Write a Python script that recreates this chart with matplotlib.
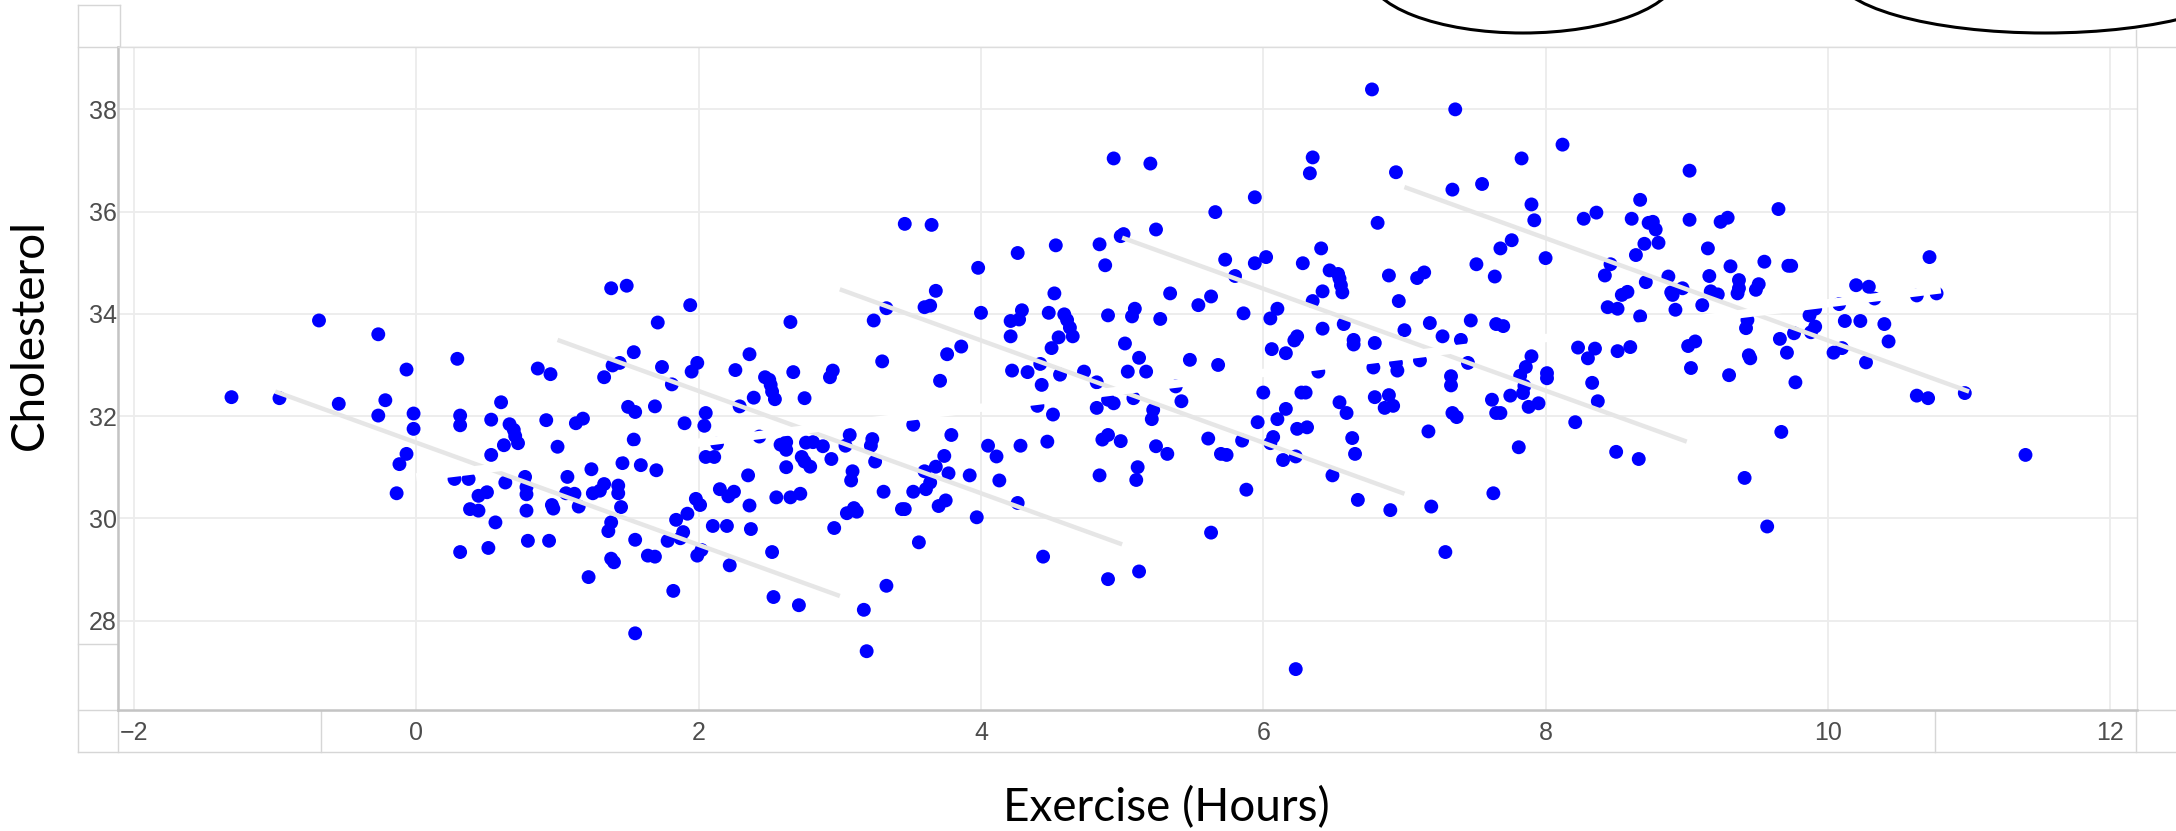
import numpy as np
import matplotlib
matplotlib.use("Agg")
import matplotlib.pyplot as plt
from matplotlib.patches import Ellipse
from matplotlib.lines import Line2D

# exercise hours / cholesterol
exercise = [
    -1.31, -0.97, -0.69, -0.55, -0.27, -0.22, -0.07, 0.29, 0.60, 0.86, 0.95, 1.33, 1.38, 1.49, 1.39, 1.44, 1.54, 1.71, 1.50, 1.69,
    -0.27, -0.02, -0.02, -0.07, -0.12, -0.14, 0.31, 0.31, 0.53, 0.66, 0.69, 0.70, 0.72, 0.62, 0.53, 0.92, 1.13, 1.18, 1.00, 1.54,
    1.55, 0.27, 0.37, 0.63, 0.77, 0.78, 0.78, 0.50, 0.44, 0.38, 0.44, 0.78, 0.56, 0.96, 0.97, 1.07, 1.06, 1.12, 1.15, 1.24,
    1.25, 1.30, 1.33, 1.43, 1.43, 1.45, 1.46, 1.59, 1.70, 1.38, 1.36, 1.55, 0.79, 0.94, 0.31, 0.51, 1.38, 1.40, 1.64, 1.69,
    1.22, 1.55,
    1.74, 1.81, 1.94, 1.95, 1.99, 2.26, 2.36, 2.39, 2.29, 2.47, 2.50, 2.51, 2.52, 2.54, 2.65, 2.67, 2.75, 2.93, 2.95, 3.24,
    3.33, 3.30, 3.46, 3.65, 3.60, 3.64, 3.68, 3.76, 3.86, 3.71, 3.98, 4.00, 4.26, 4.53, 4.84, 4.88, 4.99, 5.01, 4.52, 4.48,
    4.21, 4.27, 4.29, 4.21, 4.59, 4.61, 4.63, 4.65, 4.55, 4.50, 4.90, 5.09, 5.07, 5.02, 5.12, 5.04, 4.22, 4.33, 4.42, 4.43,
    4.56, 4.73, 4.82, 4.40, 4.82, 4.90, 4.94, 5.08, 4.94,
    2.05, 1.90, 2.04, 2.13, 2.05, 2.11, 2.35, 2.15, 2.21, 2.25, 1.98, 2.01, 1.92, 1.84, 1.89, 1.87, 1.78, 1.99, 2.02, 1.82,
    2.10, 2.20, 2.37, 2.36, 2.22, 2.52, 2.53, 2.71, 2.43, 2.58, 2.62, 2.62, 2.62, 2.55, 2.65, 2.72, 2.73, 2.75, 2.79, 2.76,
    2.81, 2.88, 2.94, 3.07, 3.04, 3.23, 3.22, 3.25, 3.52, 3.79, 3.09, 3.08, 3.31, 3.05, 3.10, 3.12, 2.96, 3.44, 3.46, 3.52,
    3.60, 3.64, 3.61, 3.68, 3.74, 3.77, 3.70, 3.75, 3.56, 3.33, 3.17, 3.19, 3.92, 3.97, 4.05, 4.11, 4.13, 4.28, 4.26, 4.47,
    4.51, 4.44, 4.86, 4.90, 4.99, 4.84, 5.11, 5.10, 4.90, 5.12,
    6.77, 7.36, 8.12, 7.83, 6.94, 6.35, 6.33, 5.20, 5.24, 5.66, 5.94, 6.81, 7.34, 7.55, 7.90, 7.92, 8.27, 8.36, 8.67, 8.61,
    8.73, 8.70, 8.64, 8.71, 7.76, 7.68, 8.00, 7.51, 7.64, 6.41, 5.73, 5.80, 5.94, 6.02, 6.28, 6.47, 6.53, 6.54, 6.55, 6.56,
    6.42, 6.35, 6.89, 6.96, 7.09, 7.14, 5.34, 5.54, 5.63, 5.27, 5.86, 6.10, 6.05, 8.46, 8.42, 8.54, 8.58, 8.44, 8.51, 8.67,
    7.18, 7.47, 7.65, 7.70, 7.00, 6.57, 6.42, 6.24, 6.22, 6.64, 6.64, 6.79, 7.27, 7.40, 6.06, 6.16, 5.48, 5.68, 5.17, 6.78,
    6.94, 6.95, 7.11, 7.45, 7.33, 7.33, 7.90, 7.86, 7.82, 8.01, 8.01, 7.85, 7.84, 8.23, 8.35, 8.30, 8.51, 8.60, 8.33, 8.37,
    7.75, 7.62, 7.95, 7.88, 5.38, 5.42, 6.00, 6.27, 6.30, 6.39, 6.54, 6.79, 6.89, 6.86, 6.92, 6.16,
    5.22, 5.21, 5.24, 5.32, 5.61, 5.70, 5.74, 5.88, 5.63, 5.85, 5.96, 6.10, 6.07, 6.05, 6.14, 6.23, 6.24, 6.31, 6.49, 6.59,
    6.63, 6.65, 6.67, 6.90, 7.17, 7.19, 7.29, 7.34, 7.37, 7.63, 7.65, 7.68, 7.81, 8.21, 8.50, 8.66, 6.23,
    9.02, 9.65, 9.02, 9.29, 9.24, 8.76, 8.78, 8.80, 9.15, 9.31, 9.55, 9.72, 9.74, 9.16, 8.87, 8.97, 8.89, 8.90, 9.17, 9.22,
    9.37, 9.37, 9.36, 9.49, 9.51, 9.11, 9.43, 9.42, 9.87, 9.91, 9.91, 9.88, 9.76, 9.66, 9.71, 9.44, 9.45, 9.77, 9.30, 9.03,
    9.01, 9.06, 10.04, 10.10, 10.12, 10.23, 10.40, 10.43, 10.27, 10.08, 10.20, 10.29, 10.33, 10.63, 10.77, 10.72, 10.63, 10.71, 10.97, 8.92,
    9.67, 9.41, 9.57, 11.40,
]
cholesterol = [
    32.37, 32.35, 33.87, 32.24, 33.60, 32.31, 32.91, 33.12, 32.27, 32.93, 32.82, 32.76, 34.50, 34.55, 32.99, 33.04, 33.25, 33.83, 32.18, 32.19,
    32.01, 32.05, 31.75, 31.26, 31.06, 30.49, 32.01, 31.82, 31.93, 31.84, 31.73, 31.61, 31.47, 31.43, 31.24, 31.92, 31.86, 31.95, 31.40, 31.54,
    32.08, 30.77, 30.77, 30.70, 30.81, 30.61, 30.47, 30.51, 30.44, 30.18, 30.15, 30.15, 29.92, 30.26, 30.19, 30.81, 30.49, 30.48, 30.23, 30.96,
    30.49, 30.54, 30.67, 30.64, 30.49, 30.22, 31.08, 31.04, 30.94, 29.92, 29.75, 29.58, 29.56, 29.56, 29.34, 29.42, 29.21, 29.14, 29.27, 29.25,
    28.85, 27.75,
    32.96, 32.62, 34.17, 32.87, 33.04, 32.90, 33.21, 32.36, 32.19, 32.76, 32.71, 32.61, 32.48, 32.33, 33.84, 32.86, 32.35, 32.76, 32.89, 33.87,
    34.11, 33.07, 35.76, 35.74, 34.13, 34.16, 34.45, 33.21, 33.36, 32.69, 34.90, 34.02, 35.19, 35.34, 35.36, 34.95, 35.52, 35.56, 34.40, 34.02,
    33.86, 33.89, 34.07, 33.56, 33.99, 33.88, 33.73, 33.56, 33.54, 33.33, 33.97, 34.10, 33.95, 33.42, 33.14, 32.87, 32.89, 32.86, 33.02, 32.61,
    32.81, 32.87, 32.66, 32.20, 32.16, 32.32, 32.25, 32.35, 37.04,
    32.06, 31.86, 31.81, 31.46, 31.20, 31.20, 30.84, 30.57, 30.43, 30.52, 30.38, 30.26, 30.09, 29.97, 29.73, 29.61, 29.56, 29.27, 29.38, 28.58,
    29.85, 29.85, 29.79, 30.25, 29.08, 29.34, 28.46, 28.30, 31.60, 31.44, 31.49, 31.34, 31.00, 30.41, 30.41, 30.48, 31.20, 31.11, 31.01, 31.48,
    31.49, 31.41, 31.16, 31.63, 31.42, 31.55, 31.42, 31.11, 31.83, 31.63, 30.92, 30.74, 30.52, 30.10, 30.20, 30.13, 29.81, 30.18, 30.18, 30.52,
    30.92, 30.70, 30.57, 31.01, 31.22, 30.88, 30.24, 30.35, 29.53, 28.68, 28.21, 27.40, 30.84, 30.02, 31.42, 31.21, 30.74, 31.42, 30.30, 31.50,
    32.03, 29.25, 31.54, 31.63, 31.51, 30.84, 31.00, 30.75, 28.81, 28.96,
    38.39, 38.00, 37.31, 37.04, 36.77, 37.06, 36.75, 36.94, 35.65, 35.99, 36.28, 35.78, 36.43, 36.54, 36.14, 35.83, 35.86, 35.98, 36.23, 35.86,
    35.78, 35.37, 35.15, 34.62, 35.44, 35.28, 35.09, 34.97, 34.73, 35.28, 35.06, 34.74, 34.99, 35.11, 34.99, 34.85, 34.78, 34.69, 34.56, 34.42,
    34.44, 34.25, 34.75, 34.25, 34.70, 34.81, 34.40, 34.17, 34.34, 33.90, 34.01, 34.10, 33.91, 34.97, 34.75, 34.37, 34.43, 34.13, 34.10, 33.95,
    33.82, 33.87, 33.80, 33.76, 33.68, 33.80, 33.71, 33.56, 33.48, 33.49, 33.40, 33.43, 33.56, 33.49, 33.31, 33.23, 33.10, 33.00, 32.87, 32.95,
    33.04, 32.89, 33.09, 33.04, 32.78, 32.60, 33.17, 32.96, 32.79, 32.84, 32.74, 32.59, 32.45, 33.34, 33.32, 33.13, 33.27, 33.35, 32.65, 32.29,
    32.40, 32.32, 32.25, 32.18, 32.58, 32.29, 32.46, 32.46, 32.46, 32.87, 32.27, 32.37, 32.41, 32.16, 32.20, 32.14,
    32.12, 31.94, 31.41, 31.26, 31.56, 31.26, 31.24, 30.56, 29.72, 31.52, 31.88, 31.94, 31.59, 31.47, 31.14, 31.21, 31.75, 31.78, 30.84, 32.06,
    31.57, 31.26, 30.36, 30.16, 31.70, 30.23, 29.34, 32.06, 31.98, 30.49, 32.06, 32.06, 31.39, 31.88, 31.30, 31.16, 27.05,
    36.80, 36.05, 35.84, 35.88, 35.80, 35.80, 35.65, 35.39, 35.28, 34.93, 35.02, 34.94, 34.94, 34.74, 34.73, 34.50, 34.42, 34.37, 34.44, 34.38,
    34.66, 34.50, 34.40, 34.47, 34.58, 34.17, 33.88, 33.72, 33.97, 34.10, 33.75, 33.64, 33.62, 33.51, 33.24, 33.19, 33.13, 32.66, 32.80, 32.94,
    33.37, 33.46, 33.24, 33.33, 33.86, 33.86, 33.80, 33.46, 33.05, 34.19, 34.56, 34.53, 34.30, 34.36, 34.40, 35.11, 32.40, 32.35, 32.45, 34.08,
    31.69, 30.79, 29.84, 31.24,
]

# per-group fit lines (start / end)
group_x0 = [-1, 1, 3, 5, 7]
group_x1 = [3, 5, 7, 9, 11]
group_y0 = [32.48, 33.49, 34.48, 35.49, 36.48]
group_y1 = [28.48, 29.49, 30.48, 31.50, 32.48]

# overall trend (drawn white in the picture)
trend_x = [0.0, 10.8]
trend_y = [30.80, 34.48]

W, H = 2176, 831
fig = plt.figure(figsize=(W / 100, H / 100), dpi=100)
ax = fig.add_axes([118 / W, 1 - 710 / H, (2137 - 118) / W, (710 - 47) / H])

ax.scatter(exercise, cholesterol, s=100, color="#0000ff", edgecolors="none", zorder=3)
for x0, x1, y0, y1 in zip(group_x0, group_x1, group_y0, group_y1):
    ax.plot([x0, x1], [y0, y1], color="#e6e6e6", lw=3.2, solid_capstyle="butt", zorder=4)
ax.plot(trend_x, trend_y, color="white", lw=6, solid_capstyle="butt", zorder=5)

ax.set_xlim(-2.114, 12.19)
ax.set_ylim(26.25, 39.22)
ax.set_xticks(range(-2, 13, 2))
ax.set_yticks(range(28, 39, 2))
ax.set_xticklabels(["\u22122", "0", "2", "4", "6", "8", "10", "12"])
ax.grid(color="#ececec", lw=1.3)
ax.set_axisbelow(True)
ax.tick_params(length=0, labelsize=18, labelcolor="#4d4d4d")
ax.tick_params(axis="y", pad=1)
ax.tick_params(axis="x", pad=8)
for lab in ax.get_xticklabels() + ax.get_yticklabels():
    lab.set_family("Liberation Sans")
for side in ["top", "right"]:
    ax.spines[side].set_color("#dddddd")
    ax.spines[side].set_linewidth(1)
for side in ["left", "bottom"]:
    ax.spines[side].set_color("#c4c4c4")
    ax.spines[side].set_linewidth(1.8)

# frame lines around the tick strips
frame = [
    (78, 5, 120, 5), (78, 5, 78, 752), (120, 5, 120, 47),
    (78, 47, 2176, 47), (78, 710, 2176, 710), (78, 752, 2176, 752),
    (118, 47, 118, 752), (321, 710, 321, 752), (1935, 710, 1935, 752),
    (2136, 30, 2136, 752), (78, 644, 118, 644),
]
for X0, Y0, X1, Y1 in frame:
    fig.add_artist(Line2D([X0 / W, X1 / W], [1 - Y0 / H, 1 - Y1 / H],
                          color="#d6d6d6", lw=1.0, zorder=0))

fig.text(30 / W, 1 - 334 / H, "Cholesterol", rotation=90, ha="center", va="center",
         fontsize=33, family="Lato", color="black")
fig.text(1166 / W, 1 - 821 / H, "Exercise (Hours)", ha="center", va="baseline",
         fontsize=33, family="Lato", color="black")

# two ellipses cut off at the top edge
for cx, w in [(1523, 310), (2045, 420)]:
    fig.add_artist(Ellipse((cx / W, 1 + 27 / H), w / W, 120 / H, fill=False,
                           edgecolor="black", lw=2.2, transform=fig.transFigure))

fig.savefig("out.png", dpi=100)
